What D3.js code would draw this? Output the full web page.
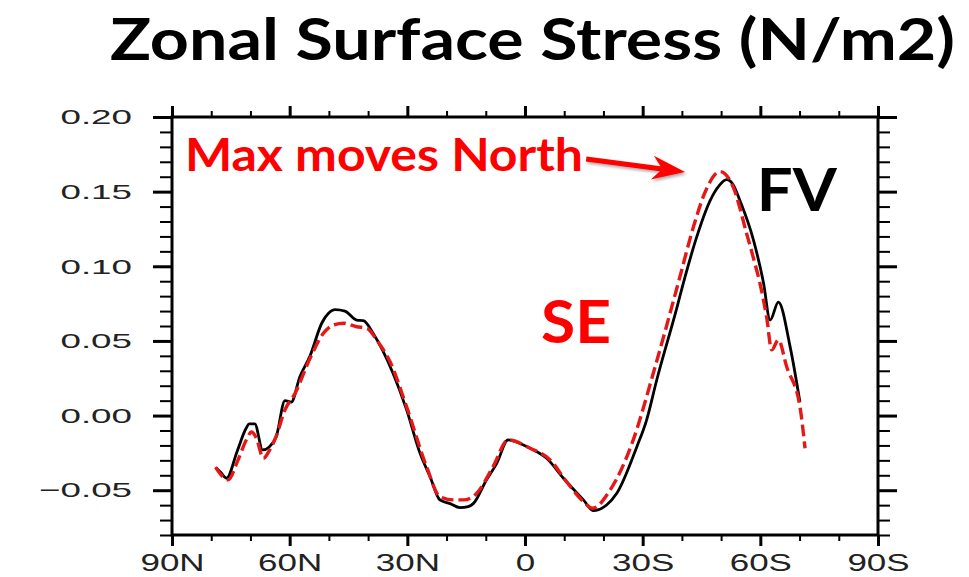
<!DOCTYPE html>
<html>
<head>
<meta charset="utf-8">
<script src="https://cdn.jsdelivr.net/npm/d3@7"></script>
<style>
  html, body { margin: 0; padding: 0; background: #ffffff; }
  svg { display: block; }
</style>
</head>
<body>
<svg id="chart" width="969" height="577"></svg>
<script>
// ---------------- DATA ----------------
const titleText = "Zonal Surface Stress (N/m2)";
const xTickValues = [90, 60, 30, 0, -30, -60, -90];
const xTickLabels = ["90N", "60N", "30N", "0", "30S", "60S", "90S"];
const yTickValues = [-0.05, 0.00, 0.05, 0.10, 0.15, 0.20];
const yTickLabels = ["\u22120.05", "0.00", "0.05", "0.10", "0.15", "0.20"];

// FV (black, solid): latitude (deg, + = N) and zonal stress (N/m2)
const fvLat = [78.8, 77.6, 76.1, 73.4, 71.2, 70.3, 68.9, 66.9, 65.2, 63.4, 61.2, 59.6, 57.4, 54.8, 51.8, 50.1, 48.4, 45.9, 42.9, 41.2, 38.7, 33.6, 30.2, 26.8, 24.2, 21.7, 19.1, 16.6, 14.5, 13.2, 9.8, 7.2, 4.3, 1.0, -3.0, -5.5, -9.8, -14.9, -17.4, -20.8, -23.4, -28.5, -31.0, -33.6, -38.7, -40.3, -43.7, -47.2, -49.5, -51.4, -53.0, -54.8, -58.2, -60.8, -62.5, -64.6, -67.6, -70.1];
const fvVal = [-0.035, -0.038, -0.042, -0.024, -0.009, -0.0055, -0.0055, -0.023, -0.021, -0.014, 0.010, 0.009, 0.026, 0.040, 0.062, 0.0685, 0.071, 0.070, 0.064, 0.0636, 0.055, 0.028, 0.004, -0.025, -0.041, -0.0565, -0.059, -0.0617, -0.061, -0.059, -0.043, -0.032, -0.0163, -0.019, -0.0242, -0.0286, -0.042, -0.0565, -0.0636, -0.0599, -0.0521, -0.021, -0.003, 0.024, 0.072, 0.088, 0.119, 0.144, 0.154, 0.158, 0.155, 0.144, 0.118, 0.089, 0.064, 0.076, 0.046, 0.009];

// SE (red, dashed)
const seLat = [78.9, 77.4, 75.7, 73.2, 71.0, 69.7, 68.5, 66.7, 65.3, 63.5, 61.2, 58.6, 54.8, 51.4, 48.8, 46.2, 42.9, 40.3, 37.8, 34.4, 30.2, 25.1, 21.7, 18.3, 15.7, 12.3, 8.1, 4.3, -1.3, -6.4, -10.6, -14.9, -17.2, -21.7, -27.6, -32.7, -37.8, -39.5, -42.9, -46.3, -49.7, -53.1, -56.5, -58.6, -59.9, -61.6, -62.9, -64.6, -66.7, -70.1, -71.4];
const seVal = [-0.0345, -0.040, -0.043, -0.030, -0.016, -0.011, -0.015, -0.0286, -0.024, -0.0143, 0.0038, 0.015, 0.0384, 0.0551, 0.0607, 0.0618, 0.0595, 0.0585, 0.0506, 0.036, 0.006, -0.0342, -0.0543, -0.0565, -0.0565, -0.052, -0.034, -0.0163, -0.0219, -0.0297, -0.0443, -0.0577, -0.0621, -0.0499, -0.0163, 0.0283, 0.0765, 0.093, 0.126, 0.152, 0.1634, 0.153, 0.122, 0.102, 0.0886, 0.066, 0.044, 0.0506, 0.0328, 0.006, -0.0219];

// annotations (data coordinates)
const annoMax = { text: "Max moves North", lat: 86.7, val: 0.1639 };
const annoFV = { text: "FV", lat: -59.1, val: 0.1373 };
const annoSE = { text: "SE", lat: -4.1, val: 0.0488 };
const arrowTail = { lat: -15.6, val: 0.1719 };
const arrowTip = { lat: -40.8, val: 0.1632 };

// ---------------- CHART ----------------
const svg = d3.select("#chart");
const plot = { left: 172, right: 878, top: 117, bottom: 535 };

const x = d3.scaleLinear().domain([90, -90]).range([plot.left, plot.right]);
const y = d3.scaleLinear().domain([-0.08, 0.20]).range([plot.bottom, plot.top]);

const red = "#e61717";
const labelFont = "'Liberation Sans', Arial, Helvetica, sans-serif";
const boldFont = "Lato, 'Open Sans', sans-serif";

function stretch(sel, k) {
  sel.each(function () {
    const w = this.getComputedTextLength();
    d3.select(this).attr("textLength", w * k).attr("lengthAdjust", "spacingAndGlyphs");
  });
}

// minor tick values
const xMinor = d3.range(90, -91, -10).filter(v => !xTickValues.includes(v));
const yMinor = d3.range(-8, 21, 1).map(v => v / 100).filter(v => !yTickValues.some(t => Math.abs(t - v) < 1e-9));

function styleAxis(g, w) {
  g.select(".domain").remove();
  g.selectAll(".tick line").attr("stroke", "#000").attr("stroke-width", w);
}

// minor ticks
svg.append("g").attr("transform", `translate(${plot.left},0)`)
  .call(d3.axisLeft(y).tickValues(yMinor).tickSize(12).tickFormat(""))
  .call(g => styleAxis(g, 2));
svg.append("g").attr("transform", `translate(${plot.right},0)`)
  .call(d3.axisRight(y).tickValues(yMinor).tickSize(12).tickFormat(""))
  .call(g => styleAxis(g, 2));
svg.append("g").attr("transform", `translate(0,${plot.bottom})`)
  .call(d3.axisBottom(x).tickValues(xMinor).tickSize(6).tickFormat(""))
  .call(g => styleAxis(g, 2));
svg.append("g").attr("transform", `translate(0,${plot.top})`)
  .call(d3.axisTop(x).tickValues(xMinor).tickSize(6).tickFormat(""))
  .call(g => styleAxis(g, 2));

// major ticks
const yLeft = svg.append("g").attr("transform", `translate(${plot.left},0)`)
  .call(d3.axisLeft(y).tickValues(yTickValues).tickSize(19).tickPadding(21)
    .tickFormat((d, i) => yTickLabels[i]))
  .call(g => styleAxis(g, 3));
yLeft.selectAll("text").attr("font-family", labelFont).attr("font-size", 21).attr("fill", "#222")
  .call(s => stretch(s, 1.75));

svg.append("g").attr("transform", `translate(${plot.right},0)`)
  .call(d3.axisRight(y).tickValues(yTickValues).tickSize(19).tickFormat(""))
  .call(g => styleAxis(g, 3));

const xBottom = svg.append("g").attr("transform", `translate(0,${plot.bottom})`)
  .call(d3.axisBottom(x).tickValues(xTickValues).tickSize(11).tickPadding(9)
    .tickFormat((d, i) => xTickLabels[i]))
  .call(g => styleAxis(g, 3));
xBottom.selectAll("text").attr("font-family", labelFont).attr("font-size", 23).attr("fill", "#222")
  .call(s => stretch(s, 1.52));

svg.append("g").attr("transform", `translate(0,${plot.top})`)
  .call(d3.axisTop(x).tickValues(xTickValues).tickSize(11).tickFormat(""))
  .call(g => styleAxis(g, 3));

// frame
svg.append("rect")
  .attr("x", plot.left).attr("y", plot.top)
  .attr("width", plot.right - plot.left).attr("height", plot.bottom - plot.top)
  .attr("fill", "none").attr("stroke", "#000").attr("stroke-width", 3);

// lines
const line = d3.line().x(d => x(d[0])).y(d => y(d[1])).curve(d3.curveMonotoneX);
const fvData = fvLat.map((l, i) => [l, fvVal[i]]);
const seData = seLat.map((l, i) => [l, seVal[i]]);

svg.append("path").datum(fvData).attr("d", line)
  .attr("fill", "none").attr("stroke", "#000").attr("stroke-width", 2.8)
  .attr("stroke-linejoin", "round");
svg.append("path").datum(seData).attr("d", line)
  .attr("fill", "none").attr("stroke", red).attr("stroke-width", 3.4)
  .attr("stroke-dasharray", "12,5");

// title
svg.append("text").attr("x", 110).attr("y", 60)
  .attr("font-family", boldFont).attr("font-weight", "bold").attr("font-size", 58)
  .attr("textLength", 845).attr("lengthAdjust", "spacingAndGlyphs")
  .attr("fill", "#000").text(titleText);

// annotations
svg.append("text").attr("x", x(annoMax.lat)).attr("y", y(annoMax.val))
  .attr("font-family", boldFont).attr("font-weight", "bold").attr("font-size", 45)
  .attr("textLength", 398).attr("lengthAdjust", "spacingAndGlyphs")
  .attr("fill", "#ff0000").text(annoMax.text);
svg.append("text").attr("x", x(annoFV.lat)).attr("y", y(annoFV.val))
  .attr("font-family", boldFont).attr("font-weight", "bold").attr("font-size", 60)
  .attr("textLength", 80).attr("lengthAdjust", "spacingAndGlyphs")
  .attr("fill", "#000").text(annoFV.text);
svg.append("text").attr("x", x(annoSE.lat)).attr("y", y(annoSE.val))
  .attr("font-family", boldFont).attr("font-weight", "bold").attr("font-size", 60)
  .attr("textLength", 70).attr("lengthAdjust", "spacingAndGlyphs")
  .attr("fill", "#ff0000").text(annoSE.text);

// arrow
const tx = x(arrowTail.lat), ty = y(arrowTail.val);
const px = x(arrowTip.lat), py = y(arrowTip.val);
const len = Math.hypot(px - tx, py - ty);
const ux = (px - tx) / len, uy = (py - ty) / len;
const nx = -uy, ny = ux;
const headLen = 33, headHalf = 12, notch = 25;
const bx = px - ux * headLen, by = py - uy * headLen;
const arrowPts = [
  [tx + nx * 2.5, ty + ny * 2.5],
  [px - ux * notch + nx * 2.5, py - uy * notch + ny * 2.5],
  [bx + nx * headHalf, by + ny * headHalf],
  [px, py],
  [bx - nx * headHalf, by - ny * headHalf],
  [px - ux * notch - nx * 2.5, py - uy * notch - ny * 2.5],
  [tx - nx * 2.5, ty - ny * 2.5]
];
const defs = svg.append("defs");
const f = defs.append("filter").attr("id", "shadow").attr("x", "-20%").attr("y", "-50%").attr("width", "140%").attr("height", "200%");
f.append("feDropShadow").attr("dx", 1.5).attr("dy", 2).attr("stdDeviation", 1.5).attr("flood-color", "#000").attr("flood-opacity", 0.35);
svg.append("polygon")
  .attr("points", arrowPts.map(p => p.join(",")).join(" "))
  .attr("fill", "#ff0000").attr("filter", "url(#shadow)");
</script>
</body>
</html>
